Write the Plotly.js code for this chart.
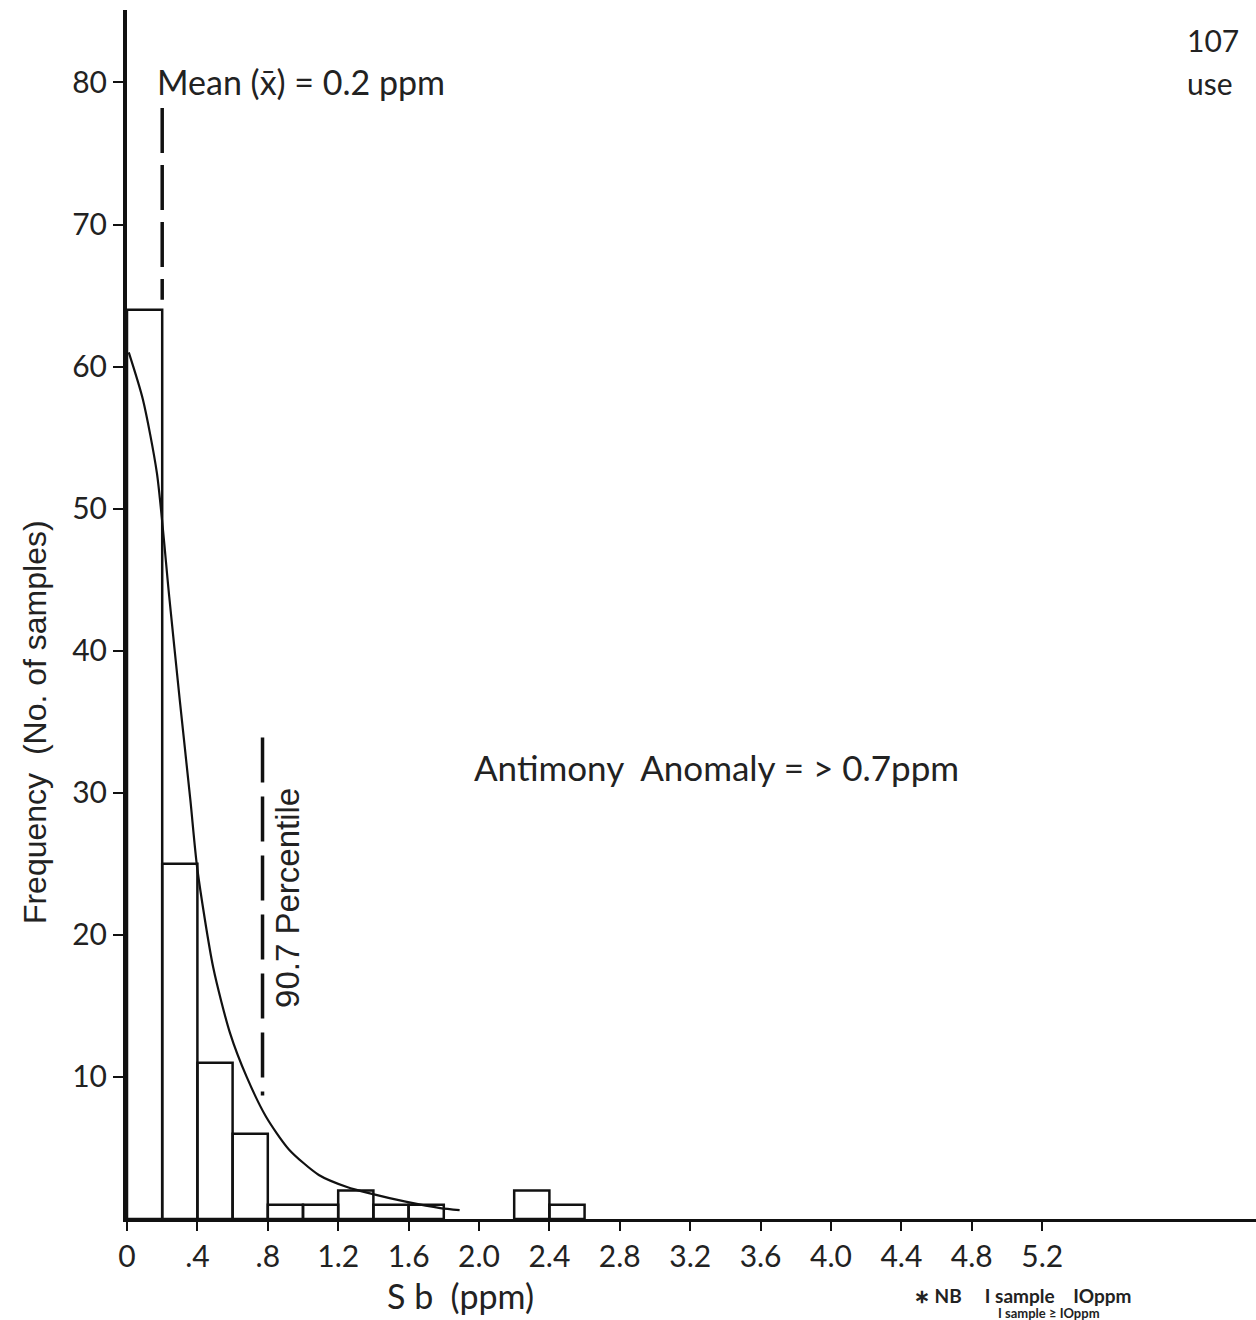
<!DOCTYPE html>
<html>
<head>
<meta charset="utf-8">
<script src="https://cdn.plot.ly/plotly-3.0.1.min.js"></script>
<style>html,body{margin:0;padding:0;background:#fff;overflow:hidden;}#chart{width:1256px;height:1320px;}</style>
</head>
<body>
<div id="chart"></div>
<script>
// Histogram bins (lower edge, ppm) and sample counts
var binStart = [0.0, 0.2, 0.4, 0.6, 0.8, 1.0, 1.2, 1.4, 1.6, 2.2, 2.4];
var binWidth = 0.2;
var counts   = [64, 25, 11, 6, 1, 1, 2, 1, 1, 2, 1];

// Fitted curve
var curveX = [0.01, 0.09, 0.17, 0.24, 0.30, 0.36, 0.40, 0.49, 0.585, 0.68, 0.79, 0.92, 1.09, 1.25, 1.38, 1.59, 1.78, 1.89];
var curveY = [61.0, 57.7, 52.5, 43.8, 36.5, 29.5, 24.6, 17.7, 13.1, 10.0, 7.2, 4.9, 3.1, 2.25, 1.8, 1.2, 0.77, 0.63];

// Reference lines
var meanValue = 0.2;
var meanLineY = [78.2, 64.7];
var pctValue = 0.77;
var pctLineY = [33.9, 8.7];

// Axis ticks
var xTickVals = [0, 0.4, 0.8, 1.2, 1.6, 2.0, 2.4, 2.8, 3.2, 3.6, 4.0, 4.4, 4.8, 5.2];
var xTickText = ["0", ".4", ".8", "1.2", "1.6", "2.0", "2.4", "2.8", "3.2", "3.6", "4.0", "4.4", "4.8", "5.2"];
var yTickVals = [10, 20, 30, 40, 50, 60, 70, 80];

var mainFont = "Lato, 'Open Sans', sans-serif";
var helv = "'Liberation Sans', Arial, sans-serif";

var traces = [
  {
    type: 'bar', x: binStart, y: counts, width: binWidth, offset: 0,
    marker: {color: 'rgba(255,255,255,0)', line: {color: '#111', width: 2.5}},
    hoverinfo: 'skip', showlegend: false
  },
  {
    type: 'scatter', mode: 'lines', x: curveX, y: curveY,
    line: {color: '#111', width: 2.2, shape: 'spline', smoothing: 0.7},
    hoverinfo: 'skip', showlegend: false
  },
  {
    type: 'scatter', mode: 'lines', x: [meanValue, meanValue], y: meanLineY,
    line: {color: '#111', width: 3.5, dash: '45px,12px'},
    hoverinfo: 'skip', showlegend: false
  },
  {
    type: 'scatter', mode: 'lines', x: [pctValue, pctValue], y: pctLineY,
    line: {color: '#111', width: 3.5, dash: '45px,14px'},
    hoverinfo: 'skip', showlegend: false
  }
];

var layout = {
  width: 1256, height: 1320,
  margin: {l: 127, r: 0, t: 10, b: 101},
  paper_bgcolor: '#fff', plot_bgcolor: '#fff',
  showlegend: false,
  bargap: 0,
  xaxis: {
    range: [0, 6.415], showgrid: false, zeroline: false,
    showline: true, linecolor: '#111', linewidth: 3,
    tickmode: 'array', tickvals: xTickVals, ticktext: xTickText,
    ticks: 'outside', ticklen: 9, tickwidth: 2, tickcolor: '#111',
    tickfont: {family: mainFont, size: 30, color: '#222'}
  },
  yaxis: {
    range: [0, 85.1], showgrid: false, zeroline: false,
    showline: true, linecolor: '#111', linewidth: 4,
    tickmode: 'array', tickvals: yTickVals,
    ticks: 'outside', ticklen: 10, tickwidth: 2, tickcolor: '#111',
    tickfont: {family: mainFont, size: 30, color: '#222'}
  },
  annotations: [
    {xref: 'paper', yref: 'paper', x: 0.295, y: -0.063, xanchor: 'center', yanchor: 'middle', showarrow: false,
     text: 'S b  (ppm)', font: {family: mainFont, size: 34, color: '#222'}},
    {xref: 'paper', yref: 'paper', x: -0.0815, y: 0.411, xanchor: 'center', yanchor: 'middle', showarrow: false, textangle: -90,
     text: 'Frequency  (No. of samples)', font: {family: helv, size: 32, color: '#222'}},
    {xref: 'x', yref: 'y', x: 0.16, y: 80.1, xanchor: 'left', yanchor: 'middle', showarrow: false,
     text: 'Mean (x\u0304) = 0.2 ppm', font: {family: mainFont, size: 34, color: '#222'}},
    {xref: 'x', yref: 'y', x: 1.96, y: 31.8, xanchor: 'left', yanchor: 'middle', showarrow: false,
     text: 'Antimony  Anomaly = > 0.7ppm', font: {family: mainFont, size: 35, color: '#222'}},
    {xref: 'x', yref: 'y', x: 0.915, y: 22.6, xanchor: 'center', yanchor: 'middle', showarrow: false, textangle: -90,
     text: '90.7 Percentile', font: {family: helv, size: 33, color: '#222'}},
    {xref: 'paper', yref: 'paper', x: 0.937, y: 0.975, xanchor: 'left', yanchor: 'middle', showarrow: false,
     text: '107', font: {family: mainFont, size: 30, color: '#222'}},
    {xref: 'paper', yref: 'paper', x: 0.937, y: 0.940, xanchor: 'left', yanchor: 'middle', showarrow: false,
     text: 'use', font: {family: mainFont, size: 30, color: '#222'}},
    {xref: 'paper', yref: 'paper', x: 0.695, y: -0.0635, xanchor: 'left', yanchor: 'middle', showarrow: false,
     text: '<b>\u2217 NB     I sample    IOppm</b>', font: {family: mainFont, size: 19, color: '#222'}},
    {xref: 'paper', yref: 'paper', x: 0.77, y: -0.0775, xanchor: 'left', yanchor: 'middle', showarrow: false,
     text: '<b>I sample \u2265 IOppm</b>', font: {family: mainFont, size: 13, color: '#222'}}
  ]
};

Plotly.newPlot('chart', traces, layout, {staticPlot: true, displayModeBar: false});
</script>
</body>
</html>
